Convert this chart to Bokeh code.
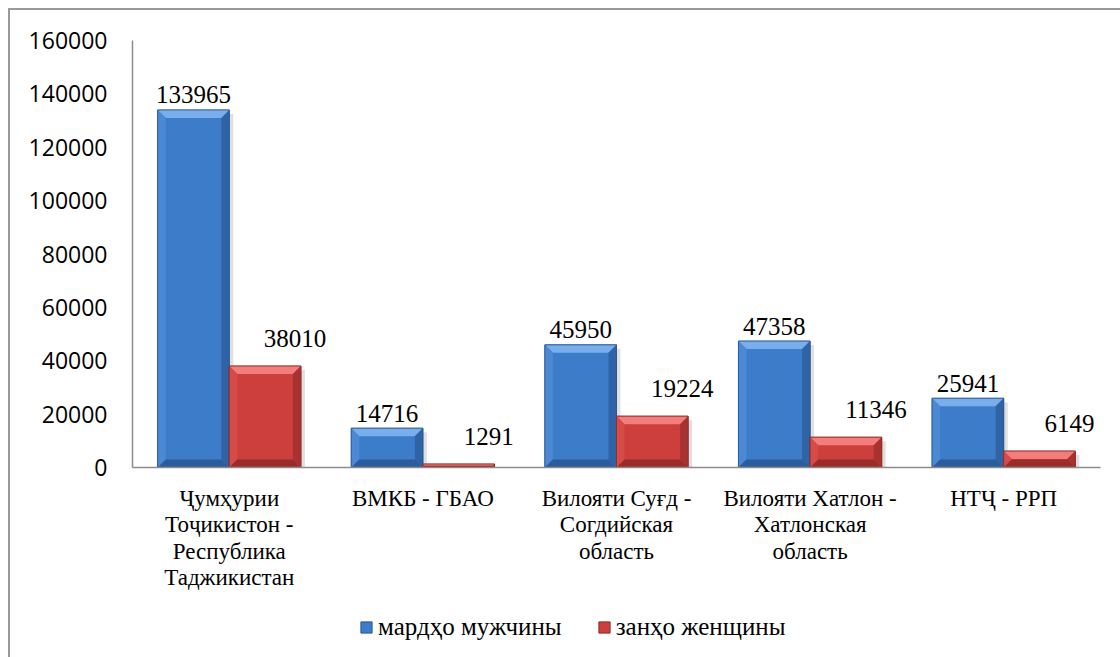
import numpy as np
from bokeh.plotting import figure
from bokeh.layouts import column
from bokeh.models import (ColumnDataSource, FixedTicker, Legend, LegendItem,
                          NumeralTickFormatter, Range1d)
from bokeh.core.properties import value
from bokeh.embed import file_html
from bokeh.resources import INLINE

# ---------------- data ----------------
categories = [
    "Ҷумҳурии Тоҷикистон - Республика Таджикистан",
    "ВМКБ - ГБАО",
    "Вилояти Суғд - Согдийская область",
    "Вилояти Хатлон - Хатлонская область",
    "НТҶ - РРП",
]
category_labels = [
    "Ҷумҳурии\nТоҷикистон -\nРеспублика\nТаджикистан",
    "ВМКБ - ГБАО",
    "Вилояти Суғд -\nСогдийская\nобласть",
    "Вилояти Хатлон -\nХатлонская\nобласть",
    "НТҶ - РРП",
]
men = [133965, 14716, 45950, 47358, 25941]
women = [38010, 1291, 19224, 11346, 6149]
series_names = ["мардҳо мужчины", "занҳо женщины"]
y_ticks = [0, 20000, 40000, 60000, 80000, 100000, 120000, 140000, 160000]

# ---------------- layout ----------------
W = 1110
H1, H2 = 597, 50
ML, MR, MT, MB = 122, 20, 30, 140
FW, FH = W - ML - MR, H1 - MT - MB
n = len(categories)
YMAX = 160000
px_x = n / FW
px_y = YMAX / FH

SERIF = "Liberation Serif"
SANS = "Open Sans"

palettes = {
    0: dict(face="#3d7cc9", top="#78aeec", left="#4b89d4", right="#2f63a6",
            bottom="#2b5c9b", edge="#2a5692"),
    1: dict(face="#cc3f3c", top="#f27d7a", left="#d54b48", right="#a83230",
            bottom="#9a2c2a", edge="#8e2a28"),
}

p = figure(width=W, height=H1, x_range=Range1d(0, n), y_range=Range1d(0, YMAX),
           output_backend="svg", toolbar_location=None,
           min_border_left=ML, min_border_right=MR, min_border_top=MT,
           min_border_bottom=MB)
p.outline_line_color = None
p.xgrid.visible = False
p.ygrid.visible = False
p.background_fill_color = "white"
p.border_fill_color = "white"

centers = np.arange(n) + 0.5
bw = 0.37

for si, vals in enumerate([men, women]):
    vals = np.array(vals, dtype=float)
    L = centers - bw if si == 0 else centers
    R = centers if si == 0 else centers + bw
    T = vals
    pal = palettes[si]
    # soft shadow on the right side
    p.quad(left=R, right=R + 4 * px_x, bottom=0, top=np.maximum(T - 4 * px_y, 0),
           fill_color="#000000", fill_alpha=0.12, line_color=None)
    p.quad(left=L, right=R, bottom=0, top=T, fill_color=pal["face"],
           line_color=pal["edge"], line_width=0.8)
    xs, ys, cs = [], [], []
    for l, r, t in zip(L, R, T):
        h_px = t / px_y
        tp = min(8.0, h_px / 2.0)
        bx, by = tp * px_x, tp * px_y
        b = 0.0
        xs.append([l, r, r - bx, l + bx]); ys.append([t, t, t - by, t - by]); cs.append(pal["top"])
        xs.append([l, l, l + bx, l + bx]); ys.append([b, t, t - by, b + by]); cs.append(pal["left"])
        xs.append([r, r, r - bx, r - bx]); ys.append([b, t, t - by, b + by]); cs.append(pal["right"])
        xs.append([l, r, r - bx, l + bx]); ys.append([b, b, b + by, b + by]); cs.append(pal["bottom"])
    p.patches(xs=xs, ys=ys, fill_color=cs, line_color=None)
    p.quad(left=L, right=R, bottom=0, top=T, fill_color=None,
           line_color=pal["edge"], line_width=0.8)

# data labels
src_m = ColumnDataSource(dict(x=centers - bw / 2, y=men, t=[str(v) for v in men]))
src_w = ColumnDataSource(dict(x=centers + bw / 2, y=women, t=[str(v) for v in women]))
p.text(x="x", y="y", text="t", source=src_m, text_font=value(SERIF), text_font_size="25px",
       text_align="center", text_baseline="alphabetic", y_offset=-15, text_color="black")
p.text(x="x", y="y", text="t", source=src_w, text_font=value(SERIF), text_font_size="25px",
       text_align="center", text_baseline="alphabetic", x_offset=30, y_offset=-28,
       text_color="black")

# axes
yax = p.yaxis[0]
yax.ticker = FixedTicker(ticks=y_ticks)
yax.formatter = NumeralTickFormatter(format="0")
yax.axis_line_color = "#8c8c8c"
yax.axis_line_width = 1.5
yax.major_tick_line_color = None
yax.minor_tick_line_color = None
yax.major_label_standoff = 19
yax.major_label_text_font = SANS
yax.major_label_text_font_size = "23px"
yax.major_label_text_color = "black"

xax = p.xaxis[0]
xax.ticker = FixedTicker(ticks=list(centers))
xax.major_label_overrides = {float(c): lab for c, lab in zip(centers, category_labels)}
xax.axis_line_color = "#8c8c8c"
xax.axis_line_width = 1.5
xax.major_tick_line_color = None
xax.minor_tick_line_color = None
xax.major_label_standoff = 12
xax.major_label_text_font = SERIF
xax.major_label_text_font_size = "23px"
xax.major_label_text_line_height = 1.06
xax.major_label_text_color = "black"

# ---------------- legend strip ----------------
q = figure(width=W, height=H2, x_range=Range1d(0, 1), y_range=Range1d(0, 1),
           output_backend="svg", toolbar_location=None,
           min_border_left=0, min_border_right=0, min_border_top=0, min_border_bottom=0)
q.axis.visible = False
q.grid.visible = False
q.outline_line_color = None
q.background_fill_color = "white"
q.border_fill_color = "white"
items = []
for si, name in enumerate(series_names):
    pal = palettes[si]
    # legend-key renderer only (no drawable coordinates)
    r = q.quad(left=[np.nan], right=[np.nan], bottom=[np.nan], top=[np.nan],
               fill_color=pal["face"], line_color=pal["edge"], line_width=1)
    items.append(LegendItem(label=name, renderers=[r]))
legend = Legend(items=items, orientation="horizontal", location=(227, 16),
                label_text_font=SERIF, label_text_font_size="25px",
                label_text_color="black", glyph_width=14, glyph_height=14,
                label_standoff=5, spacing=35, padding=0, margin=0,
                border_line_color=None, background_fill_alpha=0)
q.add_layout(legend, "center")

layout = column(p, q, spacing=0,
                styles={"margin-left": "8px", "margin-top": "8px",
                        "border-left": "2px solid #9a9a9a",
                        "border-top": "2px solid #9a9a9a"})

open("out.html", "w").write(file_html(layout, INLINE))
